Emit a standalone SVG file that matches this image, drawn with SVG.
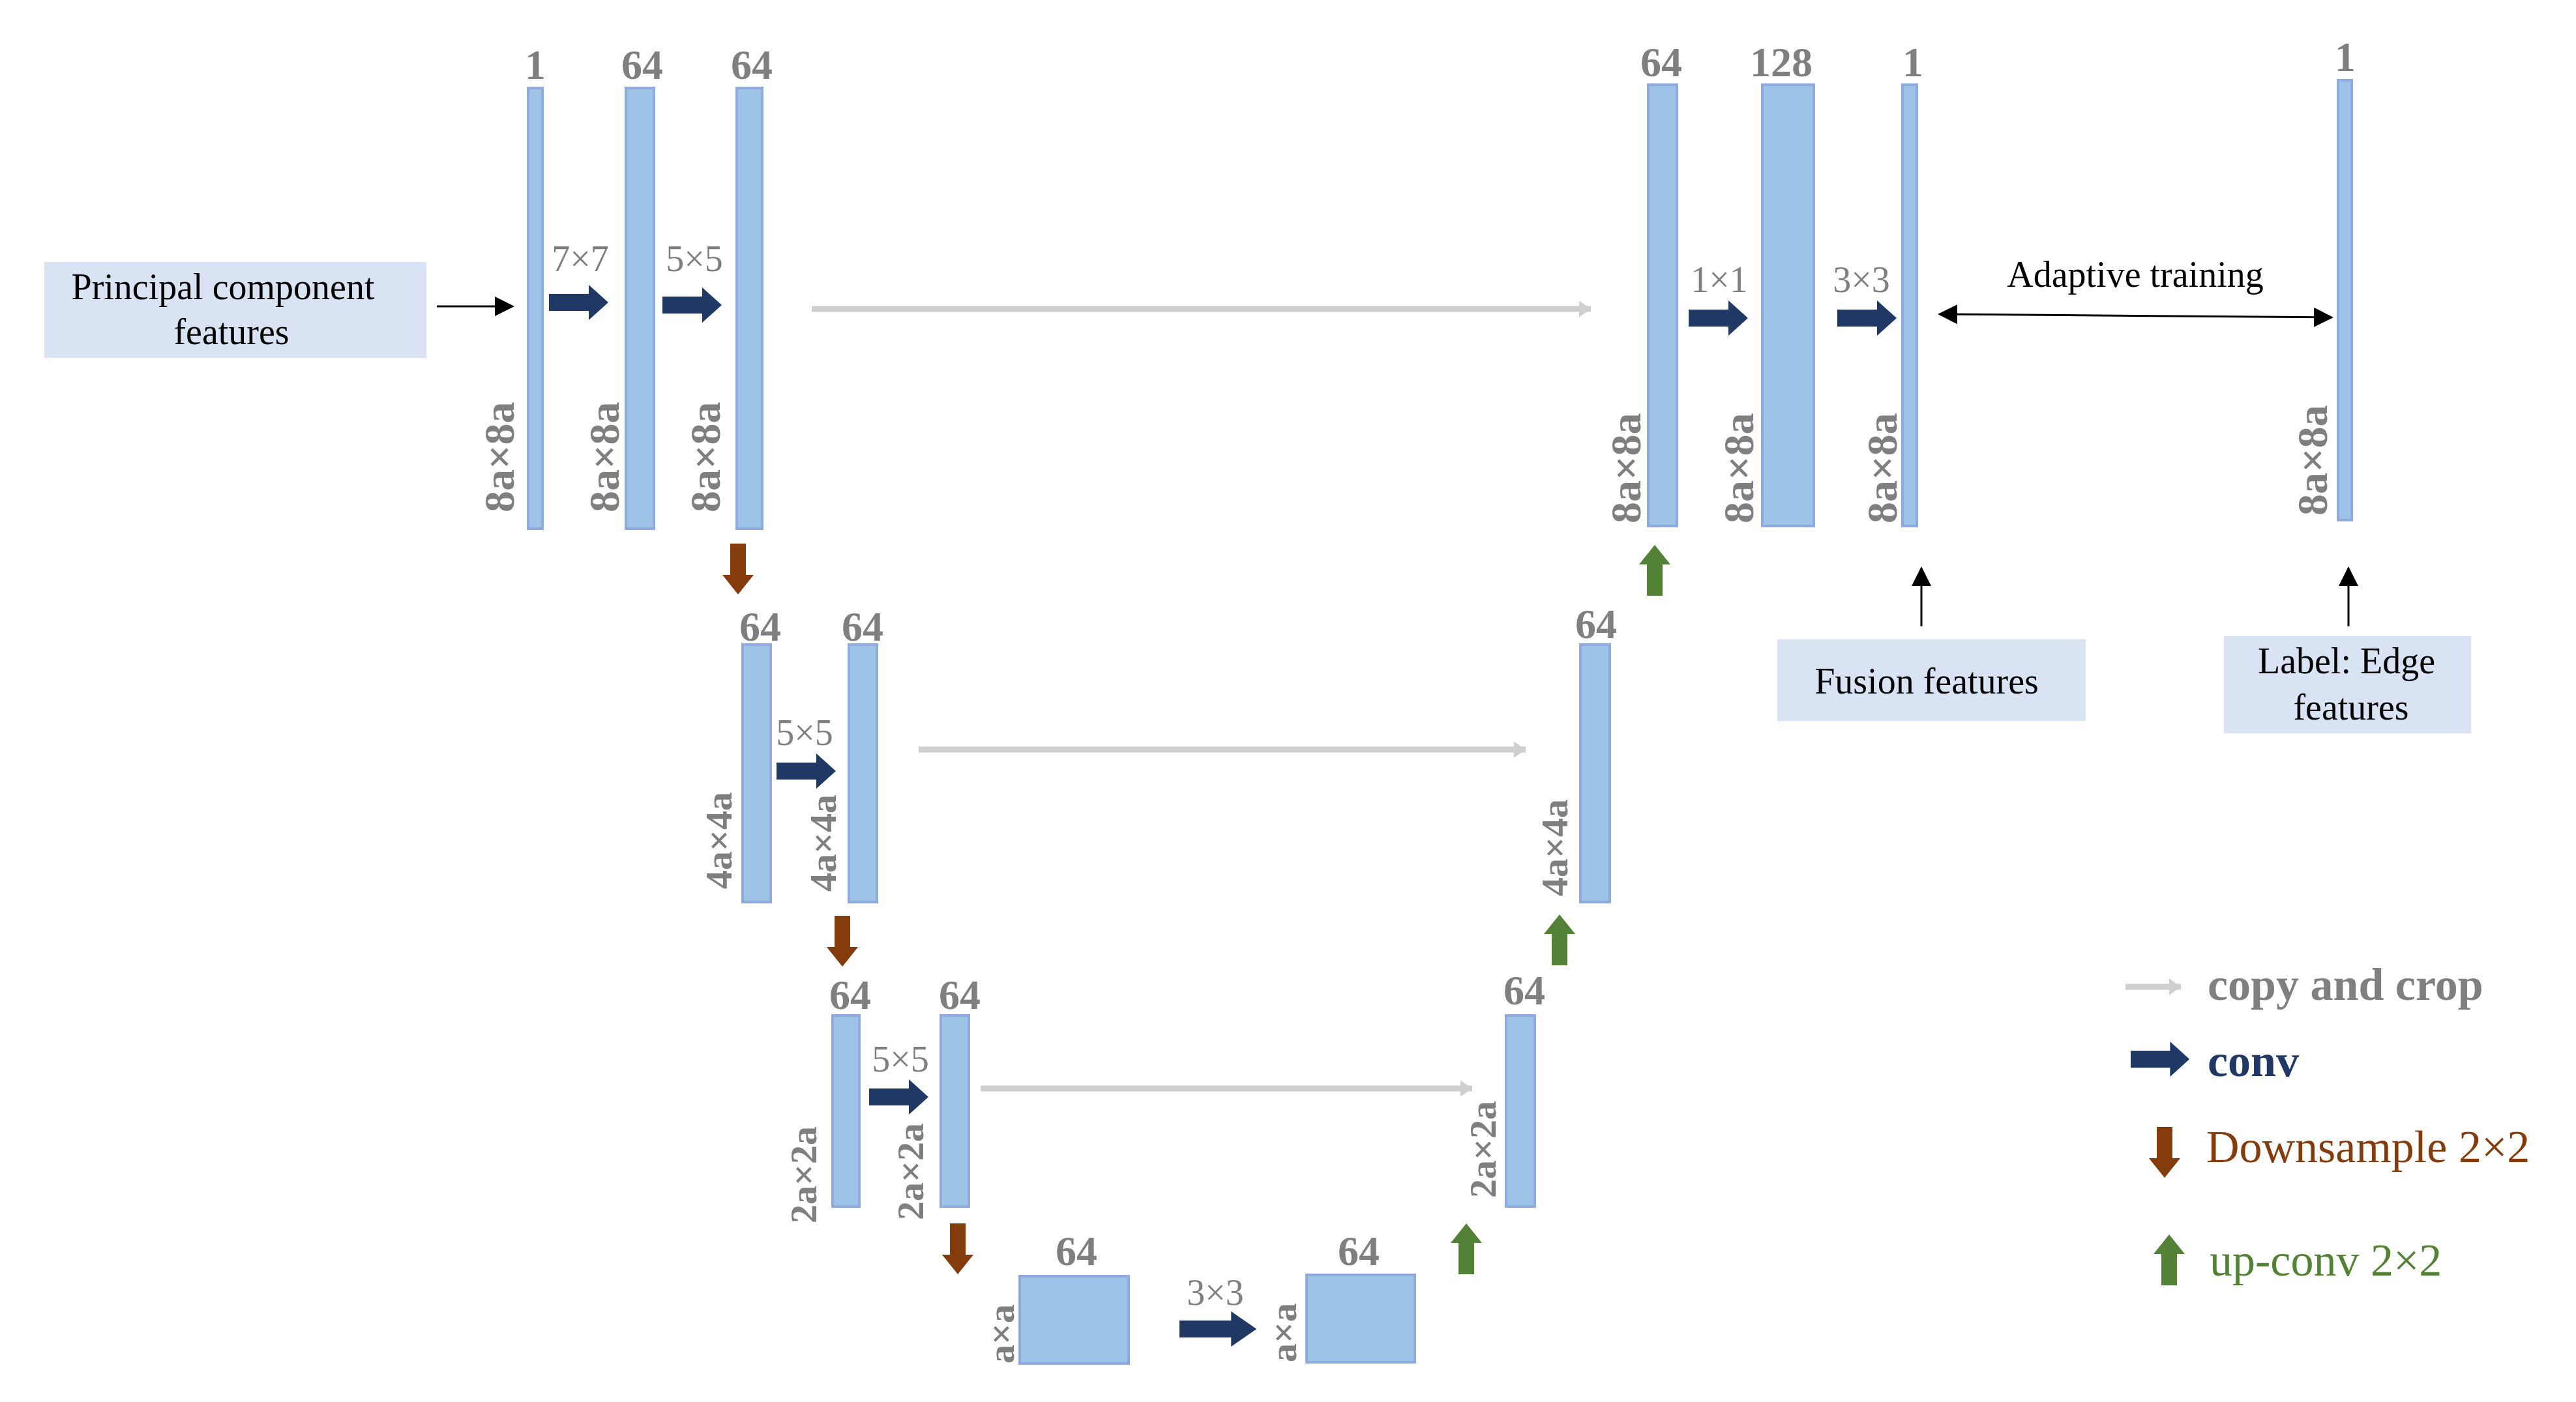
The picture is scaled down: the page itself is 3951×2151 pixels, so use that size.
<svg xmlns="http://www.w3.org/2000/svg" width="3951" height="2151" viewBox="0 0 3951 2151">
<style>
.bar{fill:#9DC3E6;stroke:#8FAADC;stroke-width:4}
.box{fill:#DAE3F3}
.num{font-family:"Liberation Serif",serif;font-weight:bold;fill:#7F7F7F;font-size:64px;text-anchor:middle}
.k{font-family:"Liberation Serif",serif;fill:#7F7F7F;font-size:56px;text-anchor:middle}
.dim{font-family:"Liberation Serif",serif;font-weight:bold;fill:#7F7F7F;font-size:66px}
.dim2{font-family:"Liberation Serif",serif;font-weight:bold;fill:#7F7F7F;font-size:58px}
.t{font-family:"Liberation Serif",serif;fill:#000;font-size:56px;text-anchor:middle}
.conv{fill:#203864}
.down{fill:#843C0C}
.up{fill:#538135}
.copy{stroke:#D0CECE;stroke-width:9;fill:none}
.blk{stroke:#000;stroke-width:3;fill:none}
.leg{font-family:"Liberation Serif",serif;font-size:70px}
</style>
<defs>
<path id="ca" d="M0,-13 H61 V-27 L91,0 L61,27 V13 H0 Z"/>
<path id="da" d="M-12,0 H12 V48 H24 L0,78 L-24,48 H-12 Z"/>
<path id="ua" d="M-12,78 H12 V30 H24 L0,0 L-24,30 H-12 Z"/>
<marker id="mg" markerWidth="4" markerHeight="4" refX="2" refY="2" orient="auto" markerUnits="strokeWidth"><path d="M0,0.6 L2,2 L0,3.4 Z" fill="#D0CECE"/></marker>
<marker id="mb" markerWidth="10" markerHeight="10" refX="9" refY="5" orient="auto-start-reverse" markerUnits="strokeWidth"><path d="M0,0 L10,5 L0,10 Z" fill="#000"/></marker>
</defs>

<g id="input-box">
<rect class="box" x="68" y="402" width="586" height="147"/>
<text class="t" x="342" y="459">Principal component</text>
<text class="t" x="355" y="528">features</text>
</g>
<g id="b1"><rect class="bar" x="810" y="135" width="22" height="676"/><text class="num" x="821" y="121">1</text><text class="dim" transform="translate(788,786) rotate(-90)">8a×8a</text></g>
<g id="b2"><rect class="bar" x="960" y="135" width="43" height="676"/><text class="num" x="985" y="121">64</text><text class="dim" transform="translate(949,786) rotate(-90)">8a×8a</text></g>
<g id="b3"><rect class="bar" x="1130" y="135" width="39" height="676"/><text class="num" x="1153" y="121">64</text><text class="dim" transform="translate(1104,786) rotate(-90)">8a×8a</text></g>

<g id="l2a"><rect class="bar" x="1139" y="989" width="43" height="395"/><text class="num" x="1166" y="983">64</text><text class="dim2" transform="translate(1122,1364) rotate(-90)">4a×4a</text></g>
<g id="l2b"><rect class="bar" x="1302" y="989" width="43" height="395"/><text class="num" x="1323" y="983">64</text><text class="dim2" transform="translate(1282,1368) rotate(-90)">4a×4a</text></g>
<g id="l3a"><rect class="bar" x="1277" y="1558" width="41" height="293"/><text class="num" x="1304" y="1548">64</text><text class="dim2" transform="translate(1252,1877) rotate(-90)">2a×2a</text></g>
<g id="l3b"><rect class="bar" x="1443" y="1558" width="43" height="293"/><text class="num" x="1472" y="1548">64</text><text class="dim2" transform="translate(1416,1872) rotate(-90)">2a×2a</text></g>
<g id="bot1"><rect class="bar" x="1564" y="1958" width="167" height="134"/><text class="num" x="1651" y="1941">64</text><text class="dim2" transform="translate(1555,2092) rotate(-90)">a×a</text></g>
<g id="bot2"><rect class="bar" x="2004" y="1956" width="166" height="134"/><text class="num" x="2084" y="1941">64</text><text class="dim2" transform="translate(1988,2090) rotate(-90)">a×a</text></g>
<g id="r3"><rect class="bar" x="2310" y="1558" width="44" height="293"/><text class="num" x="2338" y="1541">64</text><text class="dim2" transform="translate(2294,1838) rotate(-90)">2a×2a</text></g>
<g id="r2"><rect class="bar" x="2424" y="989" width="45" height="395"/><text class="num" x="2448" y="979">64</text><text class="dim2" transform="translate(2404,1375) rotate(-90)">4a×4a</text></g>

<g id="r1a"><rect class="bar" x="2528" y="130" width="44" height="677"/><text class="num" x="2548" y="117">64</text><text class="dim" transform="translate(2516,803) rotate(-90)">8a×8a</text></g>
<g id="r1b"><rect class="bar" x="2703" y="130" width="79" height="677"/><text class="num" x="2732" y="117">128</text><text class="dim" transform="translate(2689,803) rotate(-90)">8a×8a</text></g>
<g id="r1c"><rect class="bar" x="2918" y="130" width="22" height="677"/><text class="num" x="2934" y="117">1</text><text class="dim" transform="translate(2909,803) rotate(-90)">8a×8a</text></g>
<g id="lbl"><rect class="bar" x="3586" y="123" width="21" height="675"/><text class="num" x="3597" y="109">1</text><text class="dim" transform="translate(3569,791) rotate(-90)">8a×8a</text></g>

<g id="fusion-box"><rect class="box" x="2726" y="981" width="473" height="125"/><text class="t" x="2955" y="1064">Fusion features</text></g>
<g id="label-box"><rect class="box" x="3411" y="976" width="379" height="149"/><text class="t" x="3599" y="1033">Label: Edge</text><text class="t" x="3606" y="1104">features</text></g>

<g id="connectors">
<line class="blk" x1="670" y1="470" x2="786" y2="470" marker-end="url(#mb)"/>
<use href="#ca" class="conv" transform="translate(842,464)"/>
<text class="k" x="890" y="416">7×7</text>
<use href="#ca" class="conv" transform="translate(1016,468)"/>
<text class="k" x="1065" y="416">5×5</text>
<line class="copy" x1="1245" y1="474" x2="2440" y2="474" marker-end="url(#mg)"/>
<use href="#ca" class="conv" transform="translate(2590,488)"/>
<text class="k" x="2637" y="448">1×1</text>
<use href="#ca" class="conv" transform="translate(2818,488)"/>
<text class="k" x="2855" y="448">3×3</text>
<line class="blk" x1="2975" y1="482" x2="3576" y2="487" marker-start="url(#mb)" marker-end="url(#mb)"/>
<text class="t" x="3275" y="440">Adaptive training</text>
<line class="blk" x1="2947" y1="961" x2="2947" y2="872" marker-end="url(#mb)"/>
<line class="blk" x1="3602" y1="961" x2="3602" y2="872" marker-end="url(#mb)"/>

<use href="#da" class="down" transform="translate(1132,834)"/>
<use href="#ca" class="conv" transform="translate(1191,1183)"/>
<text class="k" x="1234" y="1143">5×5</text>
<line class="copy" x1="1409" y1="1150" x2="2340" y2="1150" stroke-width="7" marker-end="url(#mg)"/>
<use href="#ua" class="up" transform="translate(2392,1403)"/>
<use href="#ua" class="up" transform="translate(2538,836)"/>

<use href="#da" class="down" transform="translate(1292,1405)"/>
<use href="#ca" class="conv" transform="translate(1333,1683)"/>
<text class="k" x="1381" y="1644">5×5</text>
<line class="copy" x1="1504" y1="1670" x2="2258" y2="1670" stroke-width="7" marker-end="url(#mg)"/>
<use href="#ua" class="up" transform="translate(2249,1877)"/>
<use href="#da" class="down" transform="translate(1469,1877)"/>

<use href="#ca" class="conv" transform="translate(1809,2039) scale(1.3,1)"/>
<text class="k" x="1864" y="2002">3×3</text>
</g>

<g id="legend">
<line class="copy" x1="3260" y1="1514" x2="3345" y2="1514" marker-end="url(#mg)"/>
<text class="leg" x="3386" y="1534" font-weight="bold" fill="#7F7F7F">copy and crop</text>
<use href="#ca" class="conv" transform="translate(3268,1625) scale(0.99,1)"/>
<text class="leg" x="3386" y="1651" font-weight="bold" fill="#203864">conv</text>
<use href="#da" class="down" transform="translate(3320,1729)"/>
<text class="leg" x="3384" y="1783" fill="#843C0C">Downsample  2×2</text>
<use href="#ua" class="up" transform="translate(3327,1894)"/>
<text class="leg" x="3389" y="1957" fill="#538135">up-conv  2×2</text>
</g>
</svg>
